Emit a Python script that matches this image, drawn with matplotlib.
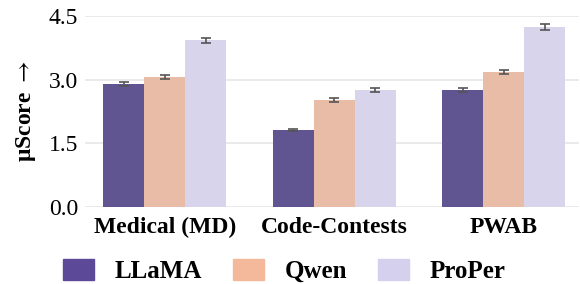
import matplotlib
matplotlib.use("Agg")
import matplotlib.pyplot as plt
import numpy as np

plt.rcParams['font.family'] = ['Liberation Serif', 'DejaVu Serif']
plt.rcParams['mathtext.fontset'] = 'stix'

tasks = ['Medical (MD)', 'Code-Contests', 'PWAB']
models = ['LLaMA', 'Qwen', 'ProPer']

# mean scores and error half-widths
llama = [2.90, 1.81, 2.76]
qwen = [3.06, 2.52, 3.18]
proper = [3.93, 2.76, 4.24]
llama_err = [0.05, 0.03, 0.05]
qwen_err = [0.05, 0.04, 0.05]
proper_err = [0.06, 0.05, 0.07]

bar_colors = ['#605491', '#e8bca6', '#d8d4eb']
legend_colors = ['#5c4a99', '#f4b89b', '#d4d0ee']

fig = plt.figure(figsize=(5.8, 2.84), dpi=100)
ax = fig.add_axes([85/580, 1 - 207/284, (579 - 85)/580, (207 - 16)/284])

x = np.arange(len(tasks))
w = 0.242
series = [(llama, llama_err), (qwen, qwen_err), (proper, proper_err)]
for i, (vals, errs) in enumerate(series):
    ax.bar(x + (i - 1)*w, vals, w, color=bar_colors[i], zorder=2, linewidth=0)
    ax.errorbar(x + (i - 1)*w, vals, yerr=errs, fmt='none', ecolor='#555555',
                elinewidth=1.2, capsize=3.5, capthick=1.2, zorder=3)

ax.set_xlim(-0.47, 2.445)
ax.set_ylim(0, 4.5)
ax.set_yticks([0, 1.5, 3.0, 4.5])
ax.set_yticklabels(['0.0', '1.5', '3.0', '4.5'], fontsize=17)
ax.set_xticks(x)
ax.set_xticklabels(tasks, fontsize=17, fontweight='bold')
ax.tick_params(length=0, pad=5)
ax.tick_params(axis='x', pad=7)
ax.grid(axis='y', color='#e6e6e6', linewidth=1.2, zorder=0)
ax.set_axisbelow(True)
for s in ax.spines.values():
    s.set_visible(False)
ax.set_ylabel(r'μScore $\rightarrow$', fontsize=17, fontweight='bold', labelpad=8)

handles = [plt.Rectangle((0, 0), 1, 1, color=c) for c in legend_colors]
fig.legend(handles, models, loc='center', bbox_to_anchor=(0.49, 0.045), ncol=3,
           frameon=False, prop={'size': 18, 'weight': 'bold'},
           handlelength=1.25, handleheight=0.9, handletextpad=0.8,
           columnspacing=1.25)

fig.savefig('out.png', dpi=100)
